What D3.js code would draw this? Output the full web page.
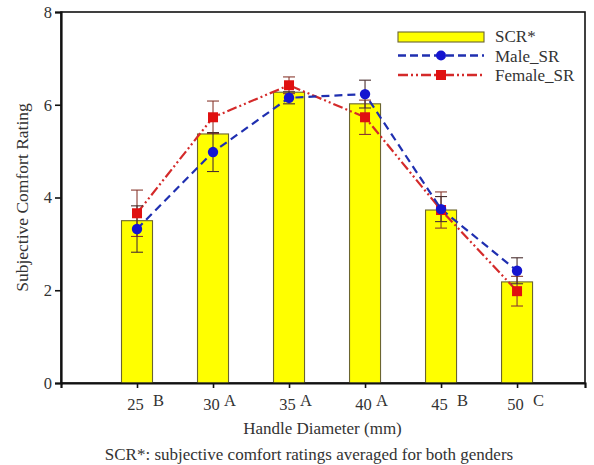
<!DOCTYPE html>
<html>
<head>
<meta charset="utf-8">
<script src="https://cdn.jsdelivr.net/npm/d3@7"></script>
<style>
  body { margin: 0; background: #fff; }
  svg { display: block; }
</style>
</head>
<body>
<div id="chart"></div>
<script>
// Handle diameters (mm) and the significance group letters
const diameters = [25, 30, 35, 40, 45, 50];
const groupLetters = ["B", "A", "A", "A", "B", "C"];

// Subjective comfort rating averaged for both genders (bars)
const scrValues = [3.5, 5.37, 6.27, 6.02, 3.73, 2.18];

// Male subjective ratings and error
const maleValues = [3.32, 4.98, 6.15, 6.23, 3.75, 2.42];
const maleErr = [0.5, 0.42, 0.13, 0.3, 0.27, 0.28];

// Female subjective ratings and error
const femaleValues = [3.66, 5.73, 6.42, 5.73, 3.73, 1.98];
const femaleErr = [0.5, 0.35, 0.18, 0.37, 0.39, 0.32];

const yTicks = [0, 2, 4, 6, 8];
const legendItems = ["SCR*", "Male_SR", "Female_SR"];

// -----------------------------
// SETUP
// -----------------------------
const width = 594;
const height = 465;
const margin = { top: 12, right: 9, bottom: 82, left: 61 };
const innerWidth = width - margin.left - margin.right;
const innerHeight = height - margin.top - margin.bottom;
const serif = "'Liberation Serif'";
const textCol = "#333";

const svg = d3.select("#chart")
    .append("svg")
    .attr("width", width)
    .attr("height", height);

const g = svg.append("g")
    .attr("transform", `translate(${margin.left},${margin.top})`);

// x is a continuous scale (diameter in mm), y is rating
const x = d3.scaleLinear()
    .domain([20, 54.47])
    .range([0, innerWidth]);

const y = d3.scaleLinear()
    .domain([0, 8])
    .range([innerHeight, 0]);

const barW = 31;

const rows = diameters.map((d, i) => ({
    d,
    letter: groupLetters[i],
    scr: scrValues[i],
    male: maleValues[i],
    maleErr: maleErr[i],
    female: femaleValues[i],
    femaleErr: femaleErr[i]
}));

// frame (top + right)
g.append("rect")
    .attr("x", 0)
    .attr("y", 0)
    .attr("width", innerWidth)
    .attr("height", innerHeight)
    .attr("fill", "none")
    .attr("stroke", "#111")
    .attr("stroke-width", 1.6);

// -----------------------------
// BARS
// -----------------------------
g.selectAll("rect.bar")
    .data(rows)
    .join("rect")
    .attr("class", "bar")
    .attr("x", r => x(r.d) - barW / 2)
    .attr("y", r => y(r.scr))
    .attr("width", barW)
    .attr("height", r => innerHeight - y(r.scr))
    .attr("fill", "#ffff00")
    .attr("stroke", "#6b6530")
    .attr("stroke-width", 1.1);

// -----------------------------
// LINES
// -----------------------------
const line = key => d3.line()
    .x(r => x(r.d))
    .y(r => y(r[key]));

g.append("path")
    .datum(rows)
    .attr("d", line("female"))
    .attr("fill", "none")
    .attr("stroke", "#d42a2a")
    .attr("stroke-width", 2.2)
    .attr("stroke-dasharray", "10,3,2,3,2,3");

g.append("path")
    .datum(rows)
    .attr("d", line("male"))
    .attr("fill", "none")
    .attr("stroke", "#1f2fb0")
    .attr("stroke-width", 2.2)
    .attr("stroke-dasharray", "8,5");

// -----------------------------
// ERROR BARS
// -----------------------------
const drawErr = (key, errKey, colour) => {
    const eg = g.append("g").attr("stroke", colour).attr("stroke-width", 1.1);
    rows.forEach(r => {
        const cx = x(r.d);
        const top = y(r[key] + r[errKey]);
        const bot = y(r[key] - r[errKey]);
        eg.append("line").attr("x1", cx).attr("x2", cx).attr("y1", top).attr("y2", bot);
        eg.append("line").attr("x1", cx - 6).attr("x2", cx + 6).attr("y1", top).attr("y2", top);
        eg.append("line").attr("x1", cx - 6).attr("x2", cx + 6).attr("y1", bot).attr("y2", bot);
    });
};
drawErr("female", "femaleErr", "#8a3a30");
drawErr("male", "maleErr", "#4a3030");

// markers
g.selectAll("rect.fem")
    .data(rows)
    .join("rect")
    .attr("class", "fem")
    .attr("x", r => x(r.d) - 5)
    .attr("y", r => y(r.female) - 5)
    .attr("width", 10)
    .attr("height", 10)
    .attr("fill", "#e01010");

g.selectAll("circle.male")
    .data(rows)
    .join("circle")
    .attr("class", "male")
    .attr("cx", r => x(r.d))
    .attr("cy", r => y(r.male))
    .attr("r", 5.2)
    .attr("fill", "#1515d0");

// -----------------------------
// AXES
// -----------------------------
const yAxis = g.append("g")
    .call(d3.axisLeft(y).tickValues(yTicks).tickSize(6).tickPadding(3).tickFormat(d3.format("d")));
const xAxis = g.append("g")
    .attr("transform", `translate(0,${innerHeight})`)
    .call(d3.axisBottom(x).tickValues(diameters).tickSize(5).tickPadding(10).tickFormat(d3.format("d")));

[yAxis, xAxis].forEach(a => {
    a.attr("font-family", null).attr("font-size", null);
    a.select(".domain").attr("stroke", "#111").attr("stroke-width", 2.2);
    a.selectAll(".tick line").attr("stroke", "#111").attr("stroke-width", 1.6);
    a.selectAll(".tick text")
        .attr("fill", textCol)
        .attr("font-family", serif)
        .attr("font-size", 16.5);
});
xAxis.selectAll(".tick text").attr("dx", -2);

// group letters next to x tick labels ("A" sits a bit closer to its number)
g.selectAll("text.letter")
    .data(rows)
    .join("text")
    .attr("class", "letter")
    .attr("x", r => x(r.d) + (r.letter === "A" ? 11 : 16))
    .attr("y", innerHeight + 23)
    .attr("fill", textCol)
    .attr("font-family", serif)
    .attr("font-size", 16.5)
    .text(r => r.letter);

// axis titles
g.append("text")
    .attr("text-anchor", "middle")
    .attr("x", x(37.2))
    .attr("y", innerHeight + 51)
    .attr("fill", textCol)
    .attr("font-family", serif)
    .attr("font-size", 17)
    .text("Handle Diameter (mm)");

g.append("text")
    .attr("text-anchor", "middle")
    .attr("transform", "rotate(-90)")
    .attr("x", -y(4))
    .attr("y", -33)
    .attr("fill", textCol)
    .attr("font-family", serif)
    .attr("font-size", 17.5)
    .text("Subjective Comfort Rating");

svg.append("text")
    .attr("text-anchor", "middle")
    .attr("x", 309)
    .attr("y", 460)
    .attr("fill", textCol)
    .attr("font-family", serif)
    .attr("font-size", 17)
    .text("SCR*: subjective comfort ratings averaged for both genders");

// -----------------------------
// LEGEND
// -----------------------------
const legend = svg.append("g").attr("transform", "translate(398,37)");

legend.append("rect")
    .attr("x", 0).attr("y", -5)
    .attr("width", 86).attr("height", 10)
    .attr("fill", "#ffff00")
    .attr("stroke", "#6b6530")
    .attr("stroke-width", 1.1);

legend.append("line")
    .attr("x1", 0).attr("x2", 86).attr("y1", 18.5).attr("y2", 18.5)
    .attr("stroke", "#1f2fb0").attr("stroke-width", 2.6).attr("stroke-dasharray", "8,4");
legend.append("circle").attr("cx", 43).attr("cy", 18.5).attr("r", 5).attr("fill", "#1515d0");

legend.append("line")
    .attr("x1", 0).attr("x2", 86).attr("y1", 38).attr("y2", 38)
    .attr("stroke", "#d42a2a").attr("stroke-width", 2.6).attr("stroke-dasharray", "10,3,2,3,2,3");
legend.append("rect").attr("x", 38).attr("y", 33).attr("width", 10).attr("height", 10).attr("fill", "#e01010");

legend.selectAll("text")
    .data(legendItems)
    .join("text")
    .attr("x", 97)
    .attr("y", (d, i) => i * 19.5 + 5)
    .attr("fill", textCol)
    .attr("font-family", serif)
    .attr("font-size", 17)
    .text(d => d);
</script>
</body>
</html>
